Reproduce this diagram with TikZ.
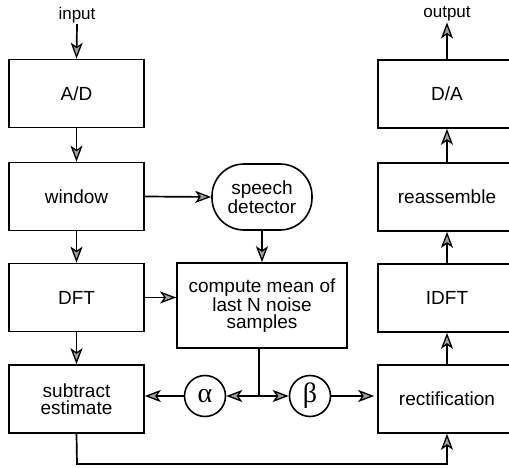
\documentclass[tikz,border=0pt]{standalone}
\usepackage{fontspec}
\setmainfont{Liberation Sans}
\newfontfamily\greekfont{Liberation Serif}
\usetikzlibrary{arrows.meta}
\begin{document}
\begin{tikzpicture}[x=1pt,y=-1pt,
  font=\fontsize{19}{17.5}\selectfont,
  blk/.style={draw, line width=1.6pt, minimum width=135pt, minimum height=68pt, align=center, inner sep=2pt},
  rblk/.style={blk, minimum width=138pt},
  circ/.style={draw, circle, line width=1.6pt, minimum size=41pt, inner sep=0pt, font=\greekfont\fontsize{28}{28}\selectfont},
  lbl/.style={inner sep=1pt, font=\fontsize{17}{17}\selectfont},
  arr/.style={line width=1.7pt, -{Stealth[length=16pt,width=12pt,inset=4pt,fill=gray!75,line width=1.3pt]}},
  ln/.style={line width=1.7pt}]
\useasboundingbox (0,0) rectangle (509,468);
\clip (0,0) rectangle (509,468);
% left column
\node[lbl] (input) at (77,15) {input};
\node[blk] (ad) at (76.5,93.5) {A/D};
\node[blk] (window) at (76.5,196.5) {window};
\node[blk] (dft) at (76.5,297.5) {DFT};
\node[blk] (sub) at (76.5,399) {subtract\\estimate};
% middle
\node[draw, line width=1.6pt, rounded corners=32pt, minimum width=100pt, minimum height=66pt, align=center, inner sep=2pt] (speech) at (262,197) {speech\\detector};
\node[draw, line width=1.6pt, minimum width=170pt, minimum height=85pt, align=center, inner sep=2pt] (compute) at (262,305.5) {compute mean of\\last N noise\\samples};
\node[circ] (alpha) at (205,396) {α};
\node[circ] (beta) at (310,396) {β};
\coordinate (j) at (259,396);
% right column
\node[lbl] (output) at (447,14) {output};
\node[rblk] (da) at (447,94) {D/A};
\node[rblk] (reas) at (447,197) {reassemble};
\node[rblk] (idft) at (447,298) {IDFT};
\node[rblk] (rect) at (447,399) {rectification};
\coordinate (b1) at (77,464);
\coordinate (b2) at (447,464);
% connectors
\draw[arr] (input.south) -- (ad.north);
\draw[arr] (ad.south) -- (window.north);
\draw[arr] (window.south) -- (dft.north);
\draw[arr] (dft.south) -- (sub.north);
\draw[arr] (window.east) -- (speech.west);
\draw[arr] (dft.east) -- (dft.east -| compute.west);
\draw[arr] (speech.south) -- (compute.north);
\draw[ln] (j |- compute.south) -- (j);
\draw[arr] (j) -- (alpha.east);
\draw[arr] (j) -- (beta.west);
\draw[arr] (alpha.west) -- (alpha.west -| sub.east);
\draw[arr] (beta.east) -- ([xshift=-3pt]beta.east -| rect.west);
\draw[arr] (sub.south) -- (b1) -- (b2) -- (rect.south);
\draw[arr] (rect.north) -- (idft.south);
\draw[arr] (idft.north) -- (reas.south);
\draw[arr] (reas.north) -- (da.south);
\draw[arr] (da.north) -- (output.south);
\end{tikzpicture}
\end{document}
